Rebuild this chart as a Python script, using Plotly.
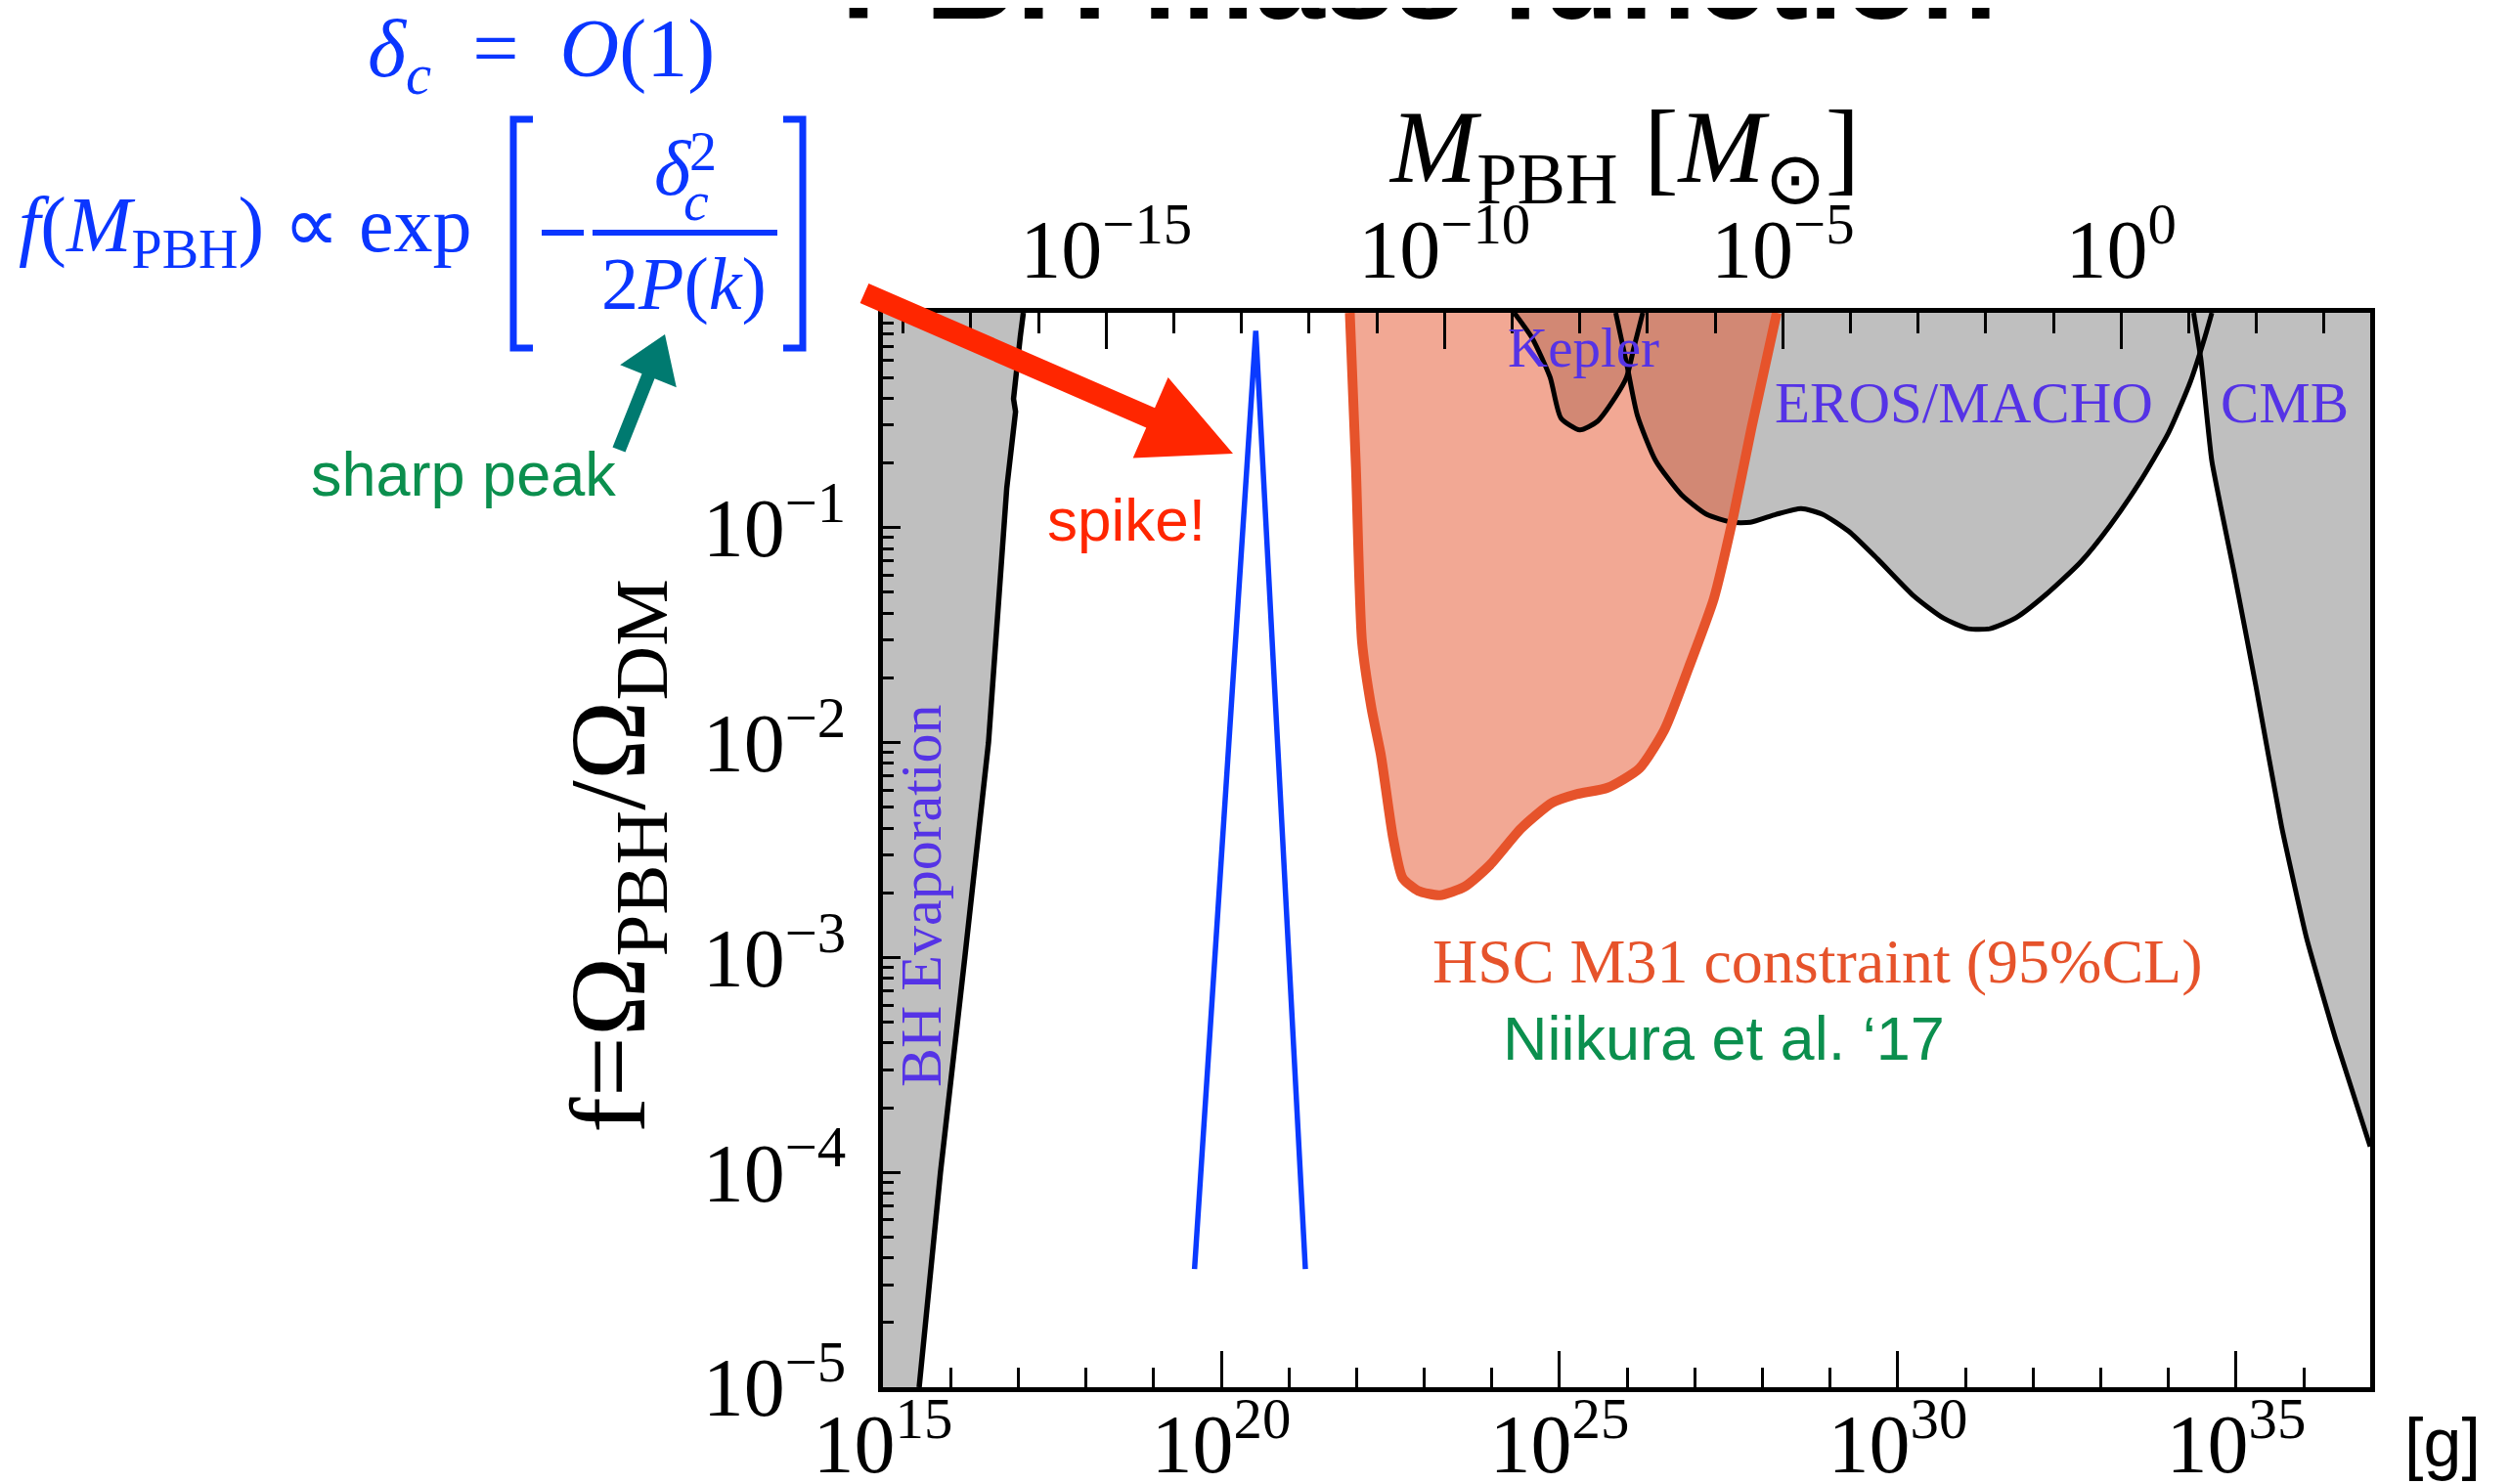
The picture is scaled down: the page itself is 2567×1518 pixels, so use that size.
import plotly.graph_objects as go

# ---------------- figure geometry (pixels, in the photographed page) ----------------
W, H = 2567, 1518
OFF = 8                        # page body margin of the html page
PL, PR, PT, PB = 903, 2424, 320, 1419

LOG_MSUN_G = 33.2986           # log10 of a solar mass in grams
X_RANGE_LOG = [15, 36.98]      # log10 M [g]
Y_RANGE_LOG = [-5, 0]          # log10 f

# ---------------- data (log10 M[g], log10 f) ----------------
bh_logm = [15.535, 15.85, 16.21, 16.56, 16.83, 16.96, 16.93, 16.98, 17.03, 17.075]
bh_logf = [-5.0, -4.0, -3.0, -2.0, -0.815, -0.46, -0.40, -0.235, -0.11, 0.0]

kepler_logm = [24.33, 24.60, 24.86, 25.02, 25.30, 25.56, 25.83, 25.99, 26.10, 26.23]
kepler_logf = [0.0, -0.12, -0.30, -0.49, -0.545, -0.505, -0.39, -0.30, -0.16, 0.0]

eros_logm = [25.83, 26.00, 26.15, 26.42, 26.80, 27.17, 27.55, 27.82, 28.20, 28.57, 28.89,
             29.27, 29.70, 30.23, 30.67, 31.04, 31.36, 31.74, 32.17, 32.70, 33.14,
             33.57, 34.00, 34.32, 34.54, 34.64]
eros_logf = [0.0, -0.25, -0.478, -0.688, -0.846, -0.937, -0.975, -0.975, -0.938, -0.911, -0.938,
             -1.016, -1.146, -1.316, -1.42, -1.47, -1.47, -1.42, -1.316, -1.16, -0.988,
             -0.79, -0.558, -0.323, -0.11, 0.0]

cmb_logm = [34.37, 34.48, 34.64, 34.97, 35.29, 35.67, 36.04, 36.47, 36.98]
cmb_logf = [0.0, -0.22, -0.69, -1.21, -1.735, -2.39, -2.91, -3.38, -3.88]

hsc_logm = [21.90, 21.99, 22.08, 22.22, 22.36, 22.54, 22.68, 22.91, 23.23, 23.60, 23.97,
            24.43, 24.89, 25.25, 25.71, 26.18, 26.55, 26.91, 27.28, 27.56, 27.84, 28.21]
hsc_logf = [0.0, -0.718, -1.53, -1.84, -2.06, -2.445, -2.63, -2.69, -2.71, -2.67, -2.57,
            -2.40, -2.28, -2.24, -2.21, -2.12, -1.94, -1.65, -1.33, -0.96, -0.53, 0.0]

spike_logm = [19.605, 20.51, 21.243]
spike_logf = [-4.45, -0.084, -4.45]

# ticks
x_major_exp = [15, 20, 25, 30, 35]
x_minor_exp = [e for e in range(16, 37) if e % 5 != 0]
x2_major_exp = [-15, -10, -5, 0]
x2_minor_exp = [e for e in range(-18, 4) if e % 5 != 0]
y_major_exp = [-5, -4, -3, -2, -1]

# ---------------- colours / fonts ----------------
GRAY = "#bfbfbf"
HSC_FILL = "rgba(229,81,41,0.5)"
HSC_EDGE = "#e6532b"
SPIKE_BLUE = "#0a3aff"
FORMULA_BLUE = "#0a36ff"
LABEL_PURPLE = "#5533e6"
GREEN = "#0b8f4e"
TEAL = "#007a70"
RED = "#ff2600"
SERIF = "Liberation Serif"
SANS = "Liberation Sans"


def p10(v):
    return [10.0 ** a for a in v]


def px(X):
    return (X - PL) / (PR - PL)


def py(Y):
    return (PB - Y) / (PB - PT)


TOPF = 10.0 ** 0.05
LEFTM = 10.0 ** (X_RANGE_LOG[0] - 0.1)
RIGHTM = 10.0 ** (X_RANGE_LOG[1] + 0.1)

fig = go.Figure()

# gray excluded regions
fig.add_trace(go.Scatter(
    x=[LEFTM] + p10(bh_logm) + [10.0 ** bh_logm[-1], LEFTM],
    y=[10.0 ** bh_logf[0]] + p10(bh_logf) + [TOPF, TOPF],
    fill="toself", fillcolor=GRAY, line=dict(width=0), mode="lines",
    hoverinfo="skip", showlegend=False))
for xs, ys in [(kepler_logm, kepler_logf), (eros_logm, eros_logf)]:
    fig.add_trace(go.Scatter(
        x=p10(xs) + [10.0 ** xs[-1], 10.0 ** xs[0]],
        y=p10(ys) + [TOPF, TOPF],
        fill="toself", fillcolor=GRAY, line=dict(width=0, shape="spline", smoothing=0.6),
        mode="lines", hoverinfo="skip", showlegend=False))
fig.add_trace(go.Scatter(
    x=p10(cmb_logm) + [RIGHTM, RIGHTM],
    y=p10(cmb_logf) + [10.0 ** cmb_logf[-1], TOPF],
    fill="toself", fillcolor=GRAY, line=dict(width=0), mode="lines",
    hoverinfo="skip", showlegend=False))

# HSC fill (semi-transparent over gray)
fig.add_trace(go.Scatter(
    x=p10(hsc_logm) + [10.0 ** hsc_logm[-1], 10.0 ** hsc_logm[0]],
    y=p10(hsc_logf) + [TOPF, TOPF],
    fill="toself", fillcolor=HSC_FILL, line=dict(width=0, shape="spline", smoothing=0.6),
    mode="lines", hoverinfo="skip", showlegend=False))

# black boundaries
fig.add_trace(go.Scatter(x=p10(bh_logm), y=p10(bh_logf), mode="lines",
                         line=dict(color="black", width=5.5), hoverinfo="skip", showlegend=False))
for xs, ys in [(kepler_logm, kepler_logf), (eros_logm, eros_logf)]:
    fig.add_trace(go.Scatter(x=p10(xs), y=p10(ys), mode="lines",
                             line=dict(color="black", width=5, shape="spline", smoothing=0.6),
                             hoverinfo="skip", showlegend=False))
fig.add_trace(go.Scatter(x=p10(cmb_logm), y=p10(cmb_logf), mode="lines",
                         line=dict(color="black", width=5, shape="spline", smoothing=0.4),
                         hoverinfo="skip", showlegend=False))

# HSC edge
fig.add_trace(go.Scatter(x=p10(hsc_logm), y=p10(hsc_logf), mode="lines",
                         line=dict(color=HSC_EDGE, width=10, shape="spline", smoothing=0.6),
                         hoverinfo="skip", showlegend=False))

# blue spike
fig.add_trace(go.Scatter(x=p10(spike_logm), y=p10(spike_logf), mode="lines",
                         line=dict(color=SPIKE_BLUE, width=5.5), hoverinfo="skip", showlegend=False))

# invisible trace so the top (solar mass) axis is drawn
fig.add_trace(go.Scatter(x=[10.0 ** (X_RANGE_LOG[0] - LOG_MSUN_G + 1)], y=[1e-3], xaxis="x2", yaxis="y",
                         mode="markers", marker=dict(size=1, opacity=0),
                         hoverinfo="skip", showlegend=False))


def sup_lbl(e):
    s = str(e).replace("-", "\u2212")
    return "10<sup>" + s + "</sup>"


fig.update_layout(
    width=W, height=H,
    margin=dict(l=PL - OFF, r=W - PR + OFF, t=PT - OFF, b=H - PB + OFF, pad=0, autoexpand=False),
    paper_bgcolor="white", plot_bgcolor="white",
    xaxis=dict(type="log", range=X_RANGE_LOG, automargin=False,
               tickvals=[10.0 ** e for e in x_major_exp], ticktext=[sup_lbl(e) for e in x_major_exp],
               ticks="inside", ticklen=37, tickwidth=3, tickcolor="black",
               minor=dict(tickvals=[10.0 ** e for e in x_minor_exp], ticks="inside",
                          ticklen=20, tickwidth=3, tickcolor="black"),
               showline=True, linewidth=5, linecolor="black", mirror=True,
               showgrid=False, zeroline=False,
               tickfont=dict(family=SERIF, size=84, color="black"),
               ticklabelstandoff=-19),
    xaxis2=dict(type="log", overlaying="x", side="top", anchor="y", automargin=False,
                range=[X_RANGE_LOG[0] - LOG_MSUN_G, X_RANGE_LOG[1] - LOG_MSUN_G],
                tickvals=[10.0 ** e for e in x2_major_exp], ticktext=[sup_lbl(e) for e in x2_major_exp],
                ticks="inside", ticklen=37, tickwidth=3, tickcolor="black",
                minor=dict(tickvals=[10.0 ** e for e in x2_minor_exp], ticks="inside",
                           ticklen=21, tickwidth=3, tickcolor="black"),
                showline=False, showgrid=False, zeroline=False,
                tickfont=dict(family=SERIF, size=84, color="black"),
                ticklabelstandoff=18),
    yaxis=dict(type="log", range=Y_RANGE_LOG, automargin=False,
               tickvals=[10.0 ** e for e in y_major_exp], ticktext=[sup_lbl(e) for e in y_major_exp],
               ticks="inside", ticklen=18, tickwidth=3, tickcolor="black",
               minor=dict(tickvals=[m * 10.0 ** e for e in y_major_exp for m in range(2, 10)],
                          ticks="inside", ticklen=11, tickwidth=2.5, tickcolor="black"),
               showline=True, linewidth=5, linecolor="black", mirror=True,
               showgrid=False, zeroline=False,
               tickfont=dict(family=SERIF, size=84, color="black"),
               ticklabelstandoff=16),
)

annotations = []


def label(text, X, Y, size, color, family=SERIF, angle=0):
    annotations.append(dict(text=text, x=px(X), y=py(Y), xref="paper", yref="paper",
                            showarrow=False, xanchor="center", yanchor="middle",
                            textangle=angle, font=dict(size=size, color=color, family=family)))


# title (cut at top of the slide)
label("<b>PBH mass function</b>", 1451, -26, 129, "black", SANS)

# axis titles
label("<i>M</i><sub>PBH</sub> [<i>M</i><sub>\u2299</sub>]", 1661, 158, 106, "black")
label("f=\u03a9<sub>PBH</sub>/\u03a9<sub>DM</sub>", 630, 876, 110, "black", SERIF, -90)
label("[g]", 2498, 1476, 70, "black", SANS)

# region labels
label("Kepler", 1619, 355, 57, LABEL_PURPLE)
label("EROS/MACHO", 2008, 412, 59, LABEL_PURPLE)
label("CMB", 2336, 412, 59, LABEL_PURPLE)
label("BH Evaporation", 942, 916, 60, LABEL_PURPLE, SERIF, -90)
label("HSC M31 constraint (95%CL)", 1859, 983, 64, HSC_EDGE)
label("Niikura et al. \u201817", 1763, 1062, 63, GREEN, SANS)
label("spike!", 1152, 531, 62, RED, SANS)
label("sharp peak", 474, 485, 63, GREEN, SANS)

# formula
label("<i>\u03b4</i><sub><i>c</i></sub>\u2002=\u2002<i>O</i>(1)", 553, 56, 84, FORMULA_BLUE)
label("<i>f</i>(<i>M</i><sub>PBH</sub>) \u221d exp", 251, 236, 80, FORMULA_BLUE)
label("<i>\u03b4</i>", 688, 172, 80, FORMULA_BLUE)
label("<i>c</i>", 712, 206, 58, FORMULA_BLUE)
label("2", 719, 155, 56, FORMULA_BLUE)
label("2<i>P</i>(<i>k</i>)", 699, 290, 76, FORMULA_BLUE)

fig.update_layout(annotations=annotations)

shapes = []


def pth(points, close=False):
    s = "M " + " L ".join(f"{px(a):.5f},{py(b):.5f}" for a, b in points)
    return s + (" Z" if close else "")


def line_path(points, color, width):
    shapes.append(dict(type="path", xref="paper", yref="paper", path=pth(points),
                       line=dict(color=color, width=width), fillcolor="rgba(0,0,0,0)", layer="above"))


def arrow(tail, tip, head_len, head_half, shaft_half, color):
    dx, dy = tip[0] - tail[0], tip[1] - tail[1]
    n = (dx * dx + dy * dy) ** 0.5
    ux, uy = dx / n, dy / n
    nx, ny = -uy, ux
    bx, by = tip[0] - head_len * ux, tip[1] - head_len * uy
    pts = [(tail[0] + shaft_half * nx, tail[1] + shaft_half * ny),
           (bx + shaft_half * nx, by + shaft_half * ny),
           (bx + head_half * nx, by + head_half * ny),
           tip,
           (bx - head_half * nx, by - head_half * ny),
           (bx - shaft_half * nx, by - shaft_half * ny),
           (tail[0] - shaft_half * nx, tail[1] - shaft_half * ny)]
    shapes.append(dict(type="path", xref="paper", yref="paper", path=pth(pts, True),
                       fillcolor=color, line=dict(width=0), layer="above"))


# brackets and fraction bars of the formula
line_path([(545, 122), (525, 122), (525, 356), (545, 356)], FORMULA_BLUE, 7)
line_path([(801, 122), (821, 122), (821, 356), (801, 356)], FORMULA_BLUE, 7)
line_path([(554, 238), (597, 238)], FORMULA_BLUE, 6)
line_path([(606, 238), (795, 238)], FORMULA_BLUE, 6)

# arrows
arrow((884, 300), (1261, 464), 92, 45, 11, RED)
arrow((633, 460), (680, 342), 46, 31, 7, TEAL)

fig.update_layout(shapes=shapes)

fig.write_html("out.html")
